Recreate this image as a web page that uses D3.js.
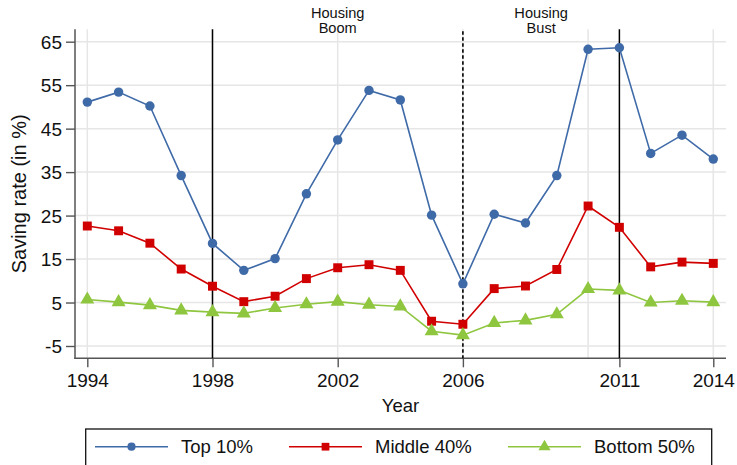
<!DOCTYPE html>
<html><head><meta charset="utf-8">
<script src="https://cdn.jsdelivr.net/npm/d3@7"></script>
<style>body{margin:0;background:#fff}svg{display:block;font-family:"Liberation Sans",Arial,Helvetica,sans-serif}</style>
</head><body><svg id="c" width="737" height="465"></svg>
<script>
const years = d3.range(1994, 2015);
const top10 = [51.1,53.4,50.2,34.2,18.6,12.4,15.1,30.0,42.4,53.8,51.6,25.1,9.3,25.3,23.3,34.2,63.25,63.6,39.3,43.5,38.0];
const middle40 = [22.6,21.5,18.65,12.7,8.75,5.2,6.45,10.5,13.0,13.7,12.4,0.7,0.0,8.2,8.8,12.6,27.2,22.3,13.2,14.3,14.0];
const bottom50 = [5.7,5.1,4.4,3.2,2.8,2.5,3.75,4.6,5.2,4.5,4.1,-1.6,-2.5,0.3,0.9,2.3,8.1,7.8,5.0,5.4,5.1];
const seriesNames = ["Top 10%","Middle 40%","Bottom 50%"];
const yTicks = [-5,5,15,25,35,45,55,65];
const xTickLabels = [1994,1998,2002,2006,2011,2014];
const xGrid = [1994,1998,2002,2006,2010,2014];
const solidEvents = [1998,2011];
const dashedEvents = [2006];
const annotations = [{x:2002, lines:["Housing","Boom"]},{x:2008.5, lines:["Housing","Bust"]}];

const colors = ["#3f6aa8","#d10000","#8fc63f"];
const symbols = [d3.symbolCircle, d3.symbolSquare, d3.symbolTriangle];
const symSize = [70, 80, 85];

const svg = d3.select("#c");
const L=75,R=726,T=29.3,B=358.3;
const x = d3.scaleLinear().domain([1993.607,2014.406]).range([L,R]);
const y = d3.scaleLinear().domain([-7.83,67.85]).range([B,T]);

// grid
svg.append("g").selectAll("line").data(yTicks).join("line")
  .attr("x1",L).attr("x2",R).attr("y1",d=>y(d)).attr("y2",d=>y(d))
  .attr("stroke","#e6e6e6").attr("stroke-width",1.5);
svg.append("g").selectAll("line").data(xGrid).join("line")
  .attr("y1",T).attr("y2",B).attr("x1",d=>x(d)).attr("x2",d=>x(d))
  .attr("stroke","#e6e6e6").attr("stroke-width",1.5);

// axes
const yAxis = d3.axisLeft(y).tickValues(yTicks).tickFormat(d=>String(d)).tickSize(9).tickPadding(4);
const gy = svg.append("g").attr("transform",`translate(${L},0)`).call(yAxis);
const xAxis = d3.axisBottom(x).tickValues(xTickLabels).tickFormat(d=>String(d)).tickSize(9).tickPadding(6);
const gx = svg.append("g").attr("transform",`translate(0,${B})`).call(xAxis);
[gx,gy].forEach(g=>{
  g.select(".domain").remove();
  g.selectAll(".tick line").attr("stroke","#555").attr("stroke-width",1.4);
  g.selectAll(".tick text").attr("font-size","19px").attr("fill","#111").attr("font-family","Liberation Sans, Arial, sans-serif");
});
gy.selectAll(".tick text").attr("dy","0.35em");
svg.append("line").attr("x1",L).attr("x2",L).attr("y1",T).attr("y2",B+0.7).attr("stroke","#555").attr("stroke-width",1.5);
svg.append("line").attr("x1",L-0.7).attr("x2",R).attr("y1",B).attr("y2",B).attr("stroke","#555").attr("stroke-width",1.5);

// event lines
svg.append("g").selectAll("line").data(solidEvents).join("line")
  .attr("x1",d=>x(d)).attr("x2",d=>x(d)).attr("y1",T).attr("y2",B)
  .attr("stroke","#000").attr("stroke-width",1.5);
svg.append("g").selectAll("line").data(dashedEvents).join("line")
  .attr("x1",d=>x(d)).attr("x2",d=>x(d)).attr("y1",T+2).attr("y2",B)
  .attr("stroke","#000").attr("stroke-width",1.6).attr("stroke-dasharray","3.5,2.5");

// annotations
annotations.forEach(a=>{
  a.lines.forEach((s,i)=>svg.append("text").attr("x",x(a.x)).attr("y",18.3+i*14.6)
    .attr("text-anchor","middle").attr("font-size","14.6px").attr("fill","#111").text(s));
});

// series
const allSeries = [top10, middle40, bottom50];
const line = d3.line().x((d,i)=>x(years[i])).y(d=>y(d));
allSeries.forEach((vals,k)=>{
  svg.append("path").datum(vals).attr("d",line).attr("fill","none")
    .attr("stroke",colors[k]).attr("stroke-width",1.6);
  svg.append("g").selectAll("path").data(vals).join("path")
    .attr("transform",(d,i)=>`translate(${x(years[i])},${y(d)})`)
    .attr("d",d3.symbol().type(symbols[k]).size(symSize[k]))
    .attr("fill",colors[k]);
});

// axis titles
svg.append("text").attr("x",(L+R)/2).attr("y",412).attr("text-anchor","middle")
  .attr("font-size","18.5px").attr("fill","#111").text("Year");
svg.append("text").attr("transform",`translate(25.5,${(T+B)/2}) rotate(-90)`).attr("text-anchor","middle")
  .attr("font-size","20px").attr("fill","#111").text("Saving rate (in %)");

// legend
svg.append("rect").attr("x",85.7).attr("y",429).attr("width",626).attr("height",40)
  .attr("fill","#fff").attr("stroke","#111").attr("stroke-width",1.3);
const legX = [95, 289, 508];
const legY = 446.7;
seriesNames.forEach((n,k)=>{
  const g = svg.append("g");
  g.append("line").attr("x1",legX[k]).attr("x2",legX[k]+73).attr("y1",legY).attr("y2",legY)
    .attr("stroke",colors[k]).attr("stroke-width",1.6);
  g.append("path").attr("transform",`translate(${legX[k]+36.5},${legY})`)
    .attr("d",d3.symbol().type(symbols[k]).size(symSize[k]*0.75)).attr("fill",colors[k]);
  g.append("text").attr("x",legX[k]+86).attr("y",453.3).attr("font-size","18.5px").attr("fill","#111").text(n);
});
</script></body></html>
